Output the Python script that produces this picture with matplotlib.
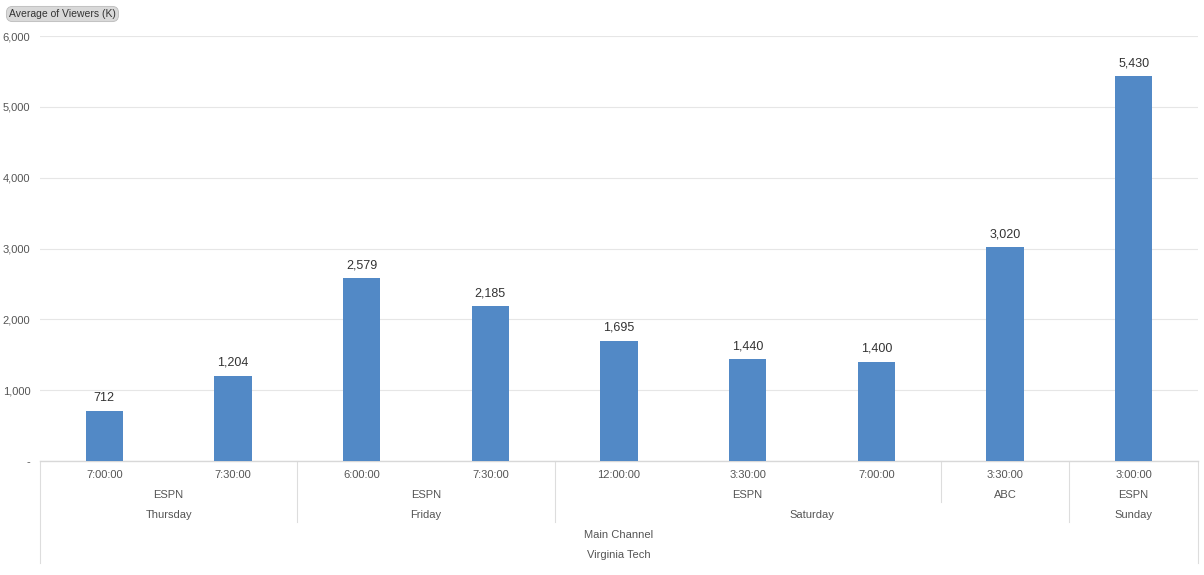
import matplotlib
matplotlib.use("Agg")
import matplotlib.pyplot as plt

times = ["7:00:00", "7:30:00", "6:00:00", "7:30:00", "12:00:00", "3:30:00", "7:00:00", "3:30:00", "3:00:00"]
channels = ["ESPN", "ESPN", "ESPN", "ESPN", "ESPN", "ESPN", "ESPN", "ABC", "ESPN"]
days = ["Thursday", "Thursday", "Friday", "Friday", "Saturday", "Saturday", "Saturday", "Saturday", "Sunday"]
group = "Main Channel"
team = "Virginia Tech"
viewers = [712, 1204, 2579, 2185, 1695, 1440, 1400, 3020, 5430]
yticks = [0, 1000, 2000, 3000, 4000, 5000, 6000]

plt.rcParams['font.family'] = ['Liberation Sans', 'DejaVu Sans']

W, H = 1204, 575
fig = plt.figure(figsize=(W / 100, H / 100), dpi=100)
L, R, T, B = 40, 1198, 36, 461
ax = fig.add_axes([L / W, 1 - B / H, (R - L) / W, (B - T) / H])

n = len(viewers)
x = list(range(n))
ax.bar(x, viewers, width=0.29, color="#5289C6", zorder=3)
for xi, v in zip(x, viewers):
    ax.annotate(f"{v:,}", (xi, v), xytext=(0, 5), textcoords="offset points",
                ha="center", va="bottom", fontsize=9, color="#333333")

ax.set_xlim(-0.5, n - 0.5)
ax.set_ylim(0, 6000)
ax.set_yticks(yticks)
ax.set_yticklabels(["-" if t == 0 else f"{t:,}" for t in yticks])
ax.tick_params(axis="y", length=0, pad=7, labelsize=8, labelcolor="#555555")
ax.set_xticks([])
ax.grid(axis="y", color="#e6e6e6", linewidth=0.8, zorder=0)
for s in ["top", "right", "left"]:
    ax.spines[s].set_visible(False)
ax.spines["bottom"].set_color("#d8d8d8")
ax.spines["bottom"].set_linewidth(1.0)

def ay(py):
    return (B - py) / (B - T)

tr = ax.get_xaxis_transform()
lab_kw = dict(ha="center", va="center", fontsize=8, color="#555555", transform=tr, clip_on=False)

for xi, t in zip(x, times):
    ax.text(xi, ay(475.5), t, **lab_kw)

def spans(labels, keys):
    out = []
    start = 0
    for i in range(1, len(labels) + 1):
        if i == len(labels) or keys[i] != keys[start]:
            out.append((start, i - 1, labels[start]))
            start = i
    return out

chan_keys = [(d, c) for d, c in zip(days, channels)]
for s0, s1, lab in spans(channels, chan_keys):
    ax.text((s0 + s1) / 2, ay(495.5), lab, **lab_kw)
for s0, s1, lab in spans(days, days):
    ax.text((s0 + s1) / 2, ay(515.5), lab, **lab_kw)
ax.text((n - 1) / 2, ay(535.5), group, **lab_kw)
ax.text((n - 1) / 2, ay(555.5), team, **lab_kw)

line_kw = dict(color="#dddddd", linewidth=0.8, transform=tr, clip_on=False)
ax.plot([-0.5, -0.5], [ay(461), ay(563)], **line_kw)
ax.plot([n - 0.5, n - 0.5], [ay(461), ay(563)], **line_kw)
for s0, s1, lab in spans(days, days)[1:]:
    ax.plot([s0 - 0.5, s0 - 0.5], [ay(461), ay(522)], **line_kw)
day_starts = {s0 for s0, s1, lab in spans(days, days)}
for s0, s1, lab in spans(channels, chan_keys)[1:]:
    if s0 not in day_starts:
        ax.plot([s0 - 0.5, s0 - 0.5], [ay(461), ay(502)], **line_kw)

fig.text(9 / W, 1 - 14 / H, "Average of Viewers (K)", ha="left", va="center", fontsize=7.5,
         color="#333333",
         bbox=dict(boxstyle="round,pad=0.25,rounding_size=0.6", facecolor="#d9d9d9",
                   edgecolor="#bbbbbb", linewidth=0.6))

fig.savefig("out.png", dpi=100)
